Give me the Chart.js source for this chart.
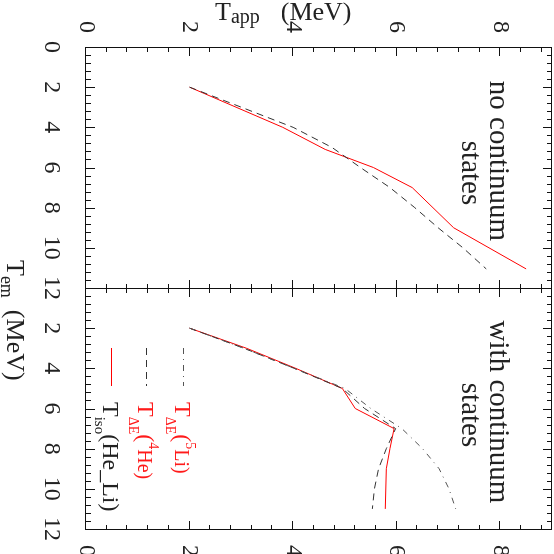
<!DOCTYPE html>
<html>
<head>
<meta charset="utf-8">
<script src="https://cdn.jsdelivr.net/npm/chart.js@4.4.0/dist/chart.umd.min.js"></script>
<style>
  html, body { margin: 0; padding: 0; background: #fff; }
  #fig { position: absolute; left: 0; top: 0; width: 554px; height: 554px;
         transform: rotate(90deg); transform-origin: 277px 277px; }
  #fig canvas { position: absolute; left: 0; top: 0; }
</style>
</head>
<body>
<div id="fig">
  <canvas id="noCont" width="554" height="554"></canvas>
  <canvas id="withCont" width="554" height="554"></canvas>
</div>
<script>
// drawn with T_em along x and T_app along y, then the whole figure is turned a quarter turn clockwise
const temTicksLeft = [0, 2, 4, 6, 8, 10, 12];
const temTicksRight = [2, 4, 6, 8, 10, 12];
const tappTicks = [0, 2, 4, 6, 8];
const minorStep = 0.4;

// no continuum states
const temIsoNo  = [2, 4, 5.1, 6, 7, 9, 11.05];
const tappIsoNo = [2, 3.8, 4.62, 5.55, 6.3, 7.1, 8.5];
const temHeNo   = [2, 4, 5, 6, 7, 8, 9, 10, 11.05];
const tappHeNo  = [2, 4.0, 4.75, 5.3, 5.87, 6.35, 6.8, 7.28, 7.73];

// with continuum states
const temLi   = [2, 3, 4, 5, 6, 7, 8, 9, 10, 11];
const tappLi  = [2, 3.05, 4.02, 5.0, 5.5, 6.1, 6.5, 6.82, 7.01, 7.14];
const temHe   = [2, 3, 4, 5, 6, 7, 8, 9, 10, 11];
const tappHe  = [2, 3.05, 4.02, 4.95, 5.38, 5.98, 5.8, 5.65, 5.57, 5.53];
const temIso  = [2, 3, 4, 5, 6, 7, 8, 9, 11];
const tappIso = [2, 3.1, 4.05, 4.95, 5.2, 5.95, 5.87, 5.8, 5.78];

const pts = (xs, ys) => xs.map((v, i) => ({x: v, y: ys[i]}));
const SERIF = '"Liberation Serif", "Times New Roman", serif';
const INK = '#222';

function drawRich(ctx, parts, x, y) {
  for (const [text, size, dy, gap] of parts) {
    x += gap || 0;
    ctx.font = size + 'px ' + SERIF;
    ctx.fillText(text, x, y + dy);
    x += ctx.measureText(text).width;
  }
}

// inward ticks on every side of the box
const boxTicks = {
  id: 'boxTicks',
  afterDraw(chart) {
    const {ctx, chartArea: a} = chart;
    const sx = chart.scales.x, sy = chart.scales.y;
    const major = v => Math.abs(v / 2 - Math.round(v / 2)) < 1e-6;
    const L = Math.round(a.left), R = Math.round(a.right);
    const T = Math.round(a.top), B = Math.round(a.bottom);
    ctx.save();
    ctx.fillStyle = '#111';
    const nx = Math.round((sx.max - sx.min) / minorStep);
    for (let i = 0; i <= nx; i++) {
      const v = sx.min + i * minorStep;
      const p = Math.round(sx.getPixelForValue(v));
      const len = major(v) ? 9 : 5;
      ctx.fillRect(p, B - len, 1, len);
      ctx.fillRect(p, T, 1, len);
    }
    const ny = Math.round((sy.max - sy.min) / minorStep);
    for (let i = 0; i <= ny; i++) {
      const v = sy.min + i * minorStep;
      const p = Math.round(sy.getPixelForValue(v));
      const len = major(v) ? 9 : 5;
      ctx.fillRect(L, p, len, 1);
      ctx.fillRect(R - len + 1, p, len, 1);
    }
    ctx.restore();
  }
};

// panel caption
const note = {
  id: 'note',
  afterDraw(chart, args, opts) {
    const {ctx} = chart;
    ctx.save();
    ctx.fillStyle = INK;
    ctx.textAlign = 'center';
    ctx.font = '29px ' + SERIF;
    opts.lines.forEach(([t, cx, by]) => ctx.fillText(t, cx, by));
    ctx.restore();
  }
};

// legend inside the right panel, styles read from the datasets
const innerLegend = {
  id: 'innerLegend',
  afterDraw(chart, args, opts) {
    if (!opts.rows) return;
    const {ctx, chartArea: a} = chart;
    ctx.save();
    opts.rows.forEach((row, i) => {
      const ds = chart.data.datasets[i];
      const yy = Math.round(a.top + row.dy) + 0.5;
      ctx.strokeStyle = ds.borderColor;
      ctx.lineWidth = 1;
      ctx.setLineDash(ds.borderDash || []);
      ctx.beginPath();
      ctx.moveTo(a.left + 60, yy);
      ctx.lineTo(a.left + 98, yy);
      ctx.stroke();
      ctx.setLineDash([]);
      ctx.fillStyle = row.color;
      drawRich(ctx, row.parts, a.left + 114, yy + 8);
    });
    ctx.restore();
  }
};

// axis titles (written once, on the first canvas)
const titles = {
  id: 'titles',
  afterDraw(chart, args, opts) {
    if (!opts.show) return;
    const {ctx} = chart;
    ctx.save();
    ctx.fillStyle = INK;
    ctx.textBaseline = 'alphabetic';
    drawRich(ctx, [['T', 26, 0], ['em', 18, 6], ['(MeV)', 26, 0, 12]], 260, 547);
    ctx.translate(20, 339);
    ctx.rotate(-Math.PI / 2);
    drawRich(ctx, [['T', 26, 0], ['app', 20, 3, 0], ['(MeV)', 26, 0, 21]], 0, 0);
    ctx.restore();
  }
};

const edge = {display: true, color: '#111', width: 1};

function panel(id, temTicks, yPos, pad, datasets, plugOpts) {
  const yOpp = yPos === 'left' ? 'right' : 'left';
  return new Chart(document.getElementById(id), {
    type: 'scatter',
    data: {datasets},
    options: {
      responsive: false,
      animation: false,
      devicePixelRatio: 1,
      layout: {padding: pad},
      scales: {
        x: {
          type: 'linear', position: 'bottom', min: 0, max: 12,
          grid: {display: false}, border: edge,
          afterBuildTicks: s => { s.ticks = temTicks.map(v => ({value: v})); },
          afterFit: s => { s.height = 86; s.paddingLeft = 0; s.paddingRight = 0; },
          ticks: {autoSkip: false, maxRotation: 0, padding: 12, color: INK,
                  font: {family: SERIF, size: 24}}
        },
        xTop: {
          type: 'linear', position: 'top', min: 0, max: 12,
          grid: {display: false}, border: edge, ticks: {display: false},
          afterFit: s => { s.height = 0; s.paddingLeft = 0; s.paddingRight = 0; }
        },
        y: {
          type: 'linear', position: yPos, min: 0, max: 9,
          grid: {display: false}, border: edge,
          afterBuildTicks: s => { s.ticks = tappTicks.map(v => ({value: v})); },
          afterFit: s => {
            s.width = yPos === 'left' ? 47 : 25;
            s.paddingTop = 0; s.paddingBottom = 0;
          },
          ticks: {autoSkip: false, padding: yPos === 'left' ? 6 : 8, color: INK,
                  font: {family: SERIF, size: 24}}
        },
        yOpp: {
          type: 'linear', position: yOpp, min: 0, max: 9,
          grid: {display: false}, border: edge, ticks: {display: false},
          afterFit: s => { s.width = 0; s.paddingTop = 0; s.paddingBottom = 0; }
        }
      },
      plugins: Object.assign({legend: {display: false}, tooltip: {enabled: false}}, plugOpts)
    },
    plugins: [boxTicks, note, innerLegend, titles]
  });
}

const line = (label, data, color, dash) => ({
  label, data, showLine: true, borderColor: color, borderDash: dash,
  borderWidth: 1, pointRadius: 0, tension: 0, fill: false
});

panel('noCont', temTicksLeft, 'left', {top: 2, right: 266},
  [
    line('T_ΔE(4He)', pts(temHeNo, tappHeNo), '#333', [7, 5]),
    line('T_iso(He_Li)', pts(temIsoNo, tappIsoNo), '#ff0000', [])
  ],
  {
    note: {lines: [['no continuum', 161, 64], ['states', 173, 92]]},
    innerLegend: {},
    titles: {show: true}
  });

panel('withCont', temTicksRight, 'right', {top: 2, left: 288},
  [
    line('T_ΔE(5Li)', pts(temLi, tappLi), '#555', [6, 5, 1, 5]),
    line('T_ΔE(4He)', pts(temHe, tappHe), '#333', [7, 5]),
    line('T_iso(He_Li)', pts(temIso, tappIso), '#ff0000', [])
  ],
  {
    note: {lines: [['with continuum', 412, 64], ['states', 415, 92]]},
    innerLegend: {rows: [
      {dy: 368, color: '#ff1a1a', parts: [['T', 24, 0], ['ΔE', 14, 9], ['(', 24, 0], ['5', 14, -11], ['Li)', 20, 0]]},
      {dy: 405, color: '#ff1a1a', parts: [['T', 24, 0], ['ΔE', 14, 9], ['(', 24, 0], ['4', 14, -11], ['He)', 20, 0]]},
      {dy: 440, color: INK, parts: [['T', 24, 0], ['iso', 15, 8], ['(He_Li)', 24, 0]]}
    ]},
    titles: {show: false}
  });
</script>
</body>
</html>
